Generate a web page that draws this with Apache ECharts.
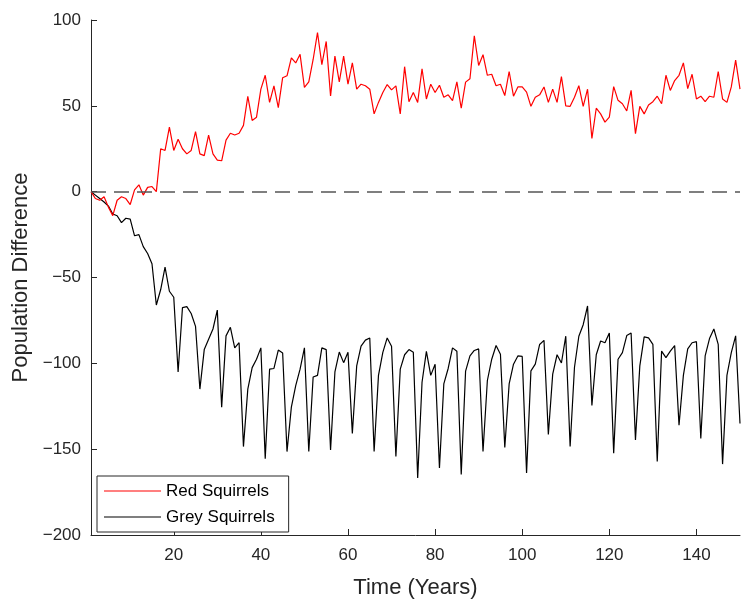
<!DOCTYPE html>
<html><head><meta charset="utf-8">
<script src="https://cdn.jsdelivr.net/npm/echarts@6/dist/echarts.min.js"></script>
<style>html,body{margin:0;padding:0;background:#fff}#c{width:741px;height:604px}</style>
</head><body><div id="c"></div>
<script>
// Years 1..150
const years = Array.from({length: 150}, (_, i) => i + 1);
const xTickValues = [20, 40, 60, 80, 100, 120, 140];

const redSquirrels = [
  0, -4, -5, -3, -9, -14, -5, -3, -4, -7.5,
  1, 4, -2, 2.5, 3, 0, 25, 24, 37.6, 24,
  30.5, 25, 22, 24, 35, 22, 21, 33, 22, 18.4,
  18, 30, 34, 33, 34, 38.6, 55.5, 41.5, 43.4, 59.7,
  67.8, 52, 61.6, 49, 66.4, 67.5, 78, 75, 80, 60.7,
  64, 77, 92.7, 74, 87.5, 55.8, 79, 64, 79, 62.6,
  75, 59.7, 62.6, 61.7, 59.7, 45.3, 52, 57.8, 62.4, 59.3,
  61.6, 45.3, 72.8, 52.4, 57.8, 52, 71.6, 54, 62.6, 57.8,
  62, 55, 56.4, 53, 64, 48.6, 63.8, 65.8, 90.8, 73.5,
  79.8, 67.8, 68.4, 61.7, 62.6, 56, 70, 55.6, 61, 61,
  58, 49.7, 55, 56.4, 61, 52, 59.7, 52, 67, 50,
  49.7, 55, 61.7, 49.7, 59.7, 31, 48.6, 45.3, 40.5, 43.4,
  61.2, 53.2, 51.2, 47, 59, 33.8, 49.7, 45.3, 50.5, 52.4,
  55.6, 51.2, 67.8, 59, 64.7, 67.8, 75, 60, 68.4, 54,
  55.6, 52.4, 55.6, 55, 70, 54, 52, 61, 76.6, 59.7
];

const greySquirrels = [
  0, -2, -4, -6, -8.4, -13, -14, -18, -15.5, -16,
  -25.7, -25, -32, -36, -42, -66, -57, -44, -58, -61.5,
  -105, -67.5, -67, -71, -78.5, -115, -92, -86, -80, -69,
  -125.5, -84, -79, -91, -88, -148.5, -115, -102.5, -97.6, -91,
  -155.6, -103.4, -103, -92.3, -94, -151.4, -125.5, -113, -103.4, -91,
  -151.4, -108, -107, -91, -92, -150.4, -105, -93.4, -99.6, -93.6,
  -140.8, -101.5, -90, -86.5, -85.2, -151.4, -107, -93.6, -85.2, -90,
  -154.3, -103.4, -95, -92, -93.6, -166.8, -111, -93, -107, -100.5,
  -161, -112, -103, -91, -93, -164.8, -104.5, -95.7, -92.5, -91.6,
  -151.4, -110, -97.6, -89.6, -94.7, -149, -112, -100.5, -95.7, -96,
  -163.8, -104.4, -100.5, -89, -86.6, -141.4, -106.3, -95, -99.8, -84.2,
  -148.5, -102.3, -84.2, -77.5, -66.6, -124.5, -95, -87, -88, -82.3,
  -152.3, -97.6, -93.8, -83.8, -82.3, -144.7, -101.5, -84.6, -85.2, -89,
  -157.2, -92.9, -96.7, -92.9, -89.7, -136, -107, -91.6, -88, -87.4,
  -143.7, -95.7, -85.6, -80, -89, -158.7, -107, -93.8, -84, -135
];

const FONT = '"Liberation Sans", Arial, Helvetica, sans-serif';
const AXIS = '#262626';
const minusFmt = v => String(v).replace('-', '\u2212');

const chart = echarts.init(document.getElementById('c'), null, {renderer: 'canvas'});
chart.setOption({
  animation: false,
  backgroundColor: '#fff',
  grid: {left: 91, right: 1, top: 20, bottom: 62, containLabel: false},
  legend: {
    data: ['Red Squirrels', 'Grey Squirrels'],
    orient: 'vertical',
    left: 97, top: 476,
    icon: 'rect',
    itemWidth: 57, itemHeight: 1.2, itemGap: 6,
    padding: [5, 14, 5, 7],
    borderColor: AXIS, borderWidth: 1, borderRadius: 0,
    backgroundColor: '#fff',
    textStyle: {fontFamily: FONT, fontSize: 17, color: '#000', lineHeight: 20}
  },
  xAxis: {
    type: 'value', min: 1, max: 150,
    name: 'Time (Years)', nameLocation: 'middle', nameGap: 42,
    nameTextStyle: {fontFamily: FONT, fontSize: 22, color: AXIS},
    axisLine: {show: true, onZero: false, lineStyle: {color: AXIS, width: 1}},
    axisTick: {show: true, inside: true, length: 6, customValues: xTickValues, lineStyle: {color: AXIS}},
    axisLabel: {customValues: xTickValues, fontFamily: FONT, fontSize: 17, color: AXIS, margin: 12},
    splitLine: {show: false}
  },
  yAxis: {
    type: 'value', min: -200, max: 100, interval: 50,
    name: 'Population Difference', nameLocation: 'middle', nameGap: 57,
    nameTextStyle: {fontFamily: FONT, fontSize: 22, color: AXIS},
    axisLine: {show: true, onZero: false, lineStyle: {color: AXIS, width: 1}},
    axisTick: {show: true, inside: true, length: 6, lineStyle: {color: AXIS}},
    axisLabel: {fontFamily: FONT, fontSize: 17, color: AXIS, margin: 10, formatter: minusFmt},
    splitLine: {show: false}
  },
  series: [
    {
      name: 'Red Squirrels', type: 'line', symbol: 'none', showSymbol: false,
      data: years.map((y, i) => [y, redSquirrels[i]]),
      lineStyle: {color: '#ff0000', width: 1.2}, itemStyle: {color: '#ff0000'},
      z: 3
    },
    {
      name: 'Grey Squirrels', type: 'line', symbol: 'none', showSymbol: false,
      data: years.map((y, i) => [y, greySquirrels[i]]),
      lineStyle: {color: '#000000', width: 1.2}, itemStyle: {color: '#000000'},
      z: 2,
      markLine: {
        silent: true, symbol: ['none', 'none'], label: {show: false},
        lineStyle: {color: '#555555', width: 1.5, type: [15, 8]},
        data: [{yAxis: 0}]
      }
    }
  ]
});
</script>
</body></html>
